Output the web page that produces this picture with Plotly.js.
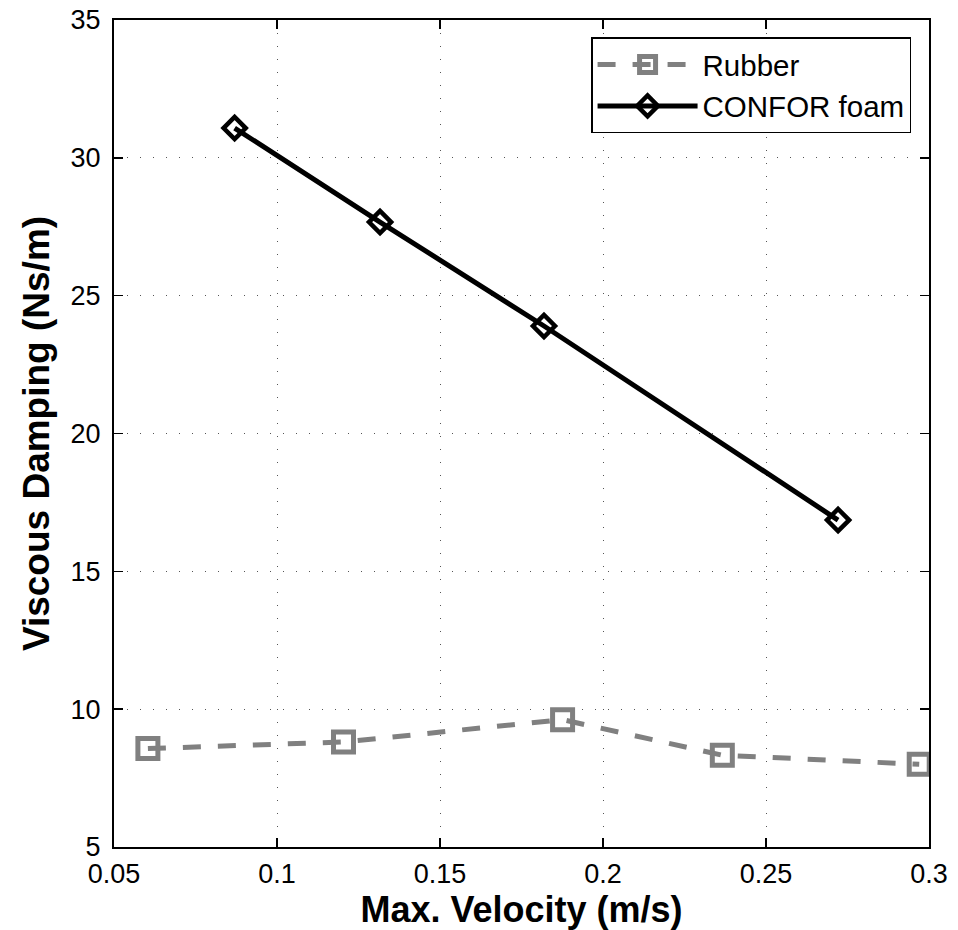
<!DOCTYPE html>
<html>
<head>
<meta charset="utf-8">
<script src="https://cdn.plot.ly/plotly-3.0.1.min.js"></script>
<style>html,body{margin:0;padding:0;background:#fff;}#chart{width:958px;height:930px;}</style>
</head>
<body>
<div id="chart"></div>
<script>
// Data
const rubberVelocity = [0.0604, 0.1204, 0.1876, 0.2366, 0.2970];
const rubberDamping  = [8.57, 8.81, 9.62, 8.33, 8.00];
const conforVelocity = [0.0870, 0.1316, 0.1819, 0.2721];
const conforDamping  = [31.08, 27.67, 23.90, 16.86];
const xTickVals = [0.05, 0.1, 0.15, 0.2, 0.25, 0.3];
const xTickText = ["0.05", "0.1", "0.15", "0.2", "0.25", "0.3"];
const yTickVals = [5, 10, 15, 20, 25, 30, 35];
const yTickText = ["5", "10", "15", "20", "25", "30", "35"];
const seriesNames = ["Rubber", "CONFOR foam"];

const FONT = "Liberation Sans, Arial, Helvetica, sans-serif";

const traces = [
  {
    x: rubberVelocity, y: rubberDamping, name: seriesNames[0],
    type: "scatter", mode: "lines+markers",
    line: {color: "#808080", width: 5, dash: "18px,17px"},
    marker: {symbol: "square-open", size: 20, color: "#808080", line: {width: 5, color: "#808080"}}
  },
  {
    x: conforVelocity, y: conforDamping, name: seriesNames[1],
    type: "scatter", mode: "lines+markers",
    line: {color: "#000000", width: 5},
    marker: {symbol: "diamond-open", size: 17, color: "#000000", line: {width: 4.5, color: "#000000"}}
  }
];

const axisCommon = {
  showline: true, linecolor: "#000", linewidth: 2, mirror: "allticks",
  ticks: "inside", ticklen: 9, tickwidth: 1.5, tickcolor: "#000",
  showgrid: true, gridcolor: "#555", gridwidth: 1, griddash: "1px,12px",
  zeroline: false, tickfont: {family: FONT, size: 27, color: "#000"}
};

const layout = {
  width: 958, height: 930,
  margin: {l: 114, r: 29, t: 20, b: 83},
  paper_bgcolor: "#fff", plot_bgcolor: "#fff",
  showlegend: true,
  xaxis: Object.assign({}, axisCommon, {
    range: [0.05, 0.3], tickmode: "array", tickvals: xTickVals, ticktext: xTickText,
    ticklabelstandoff: 2,
    title: {text: "<b>Max. Velocity (m/s)</b>", font: {family: FONT, size: 36, color: "#000"}, standoff: 1}
  }),
  yaxis: Object.assign({}, axisCommon, {
    range: [5, 35], tickmode: "array", tickvals: yTickVals, ticktext: yTickText,
    ticklabelstandoff: 6,
    title: {text: "<b>Viscous Damping (Ns/m)</b>", font: {family: FONT, size: 37, color: "#000"}, standoff: 10}
  }),
  legend: {
    x: 0.978, y: 0.979, xanchor: "right", yanchor: "top",
    bgcolor: "#fff", bordercolor: "#000", borderwidth: 1.5,
    font: {family: FONT, size: 29.5, color: "#000"},
    itemwidth: 100, tracegroupgap: 0
  }
};

Plotly.newPlot("chart", traces, layout, {displayModeBar: false, staticPlot: true});
</script>
</body>
</html>
